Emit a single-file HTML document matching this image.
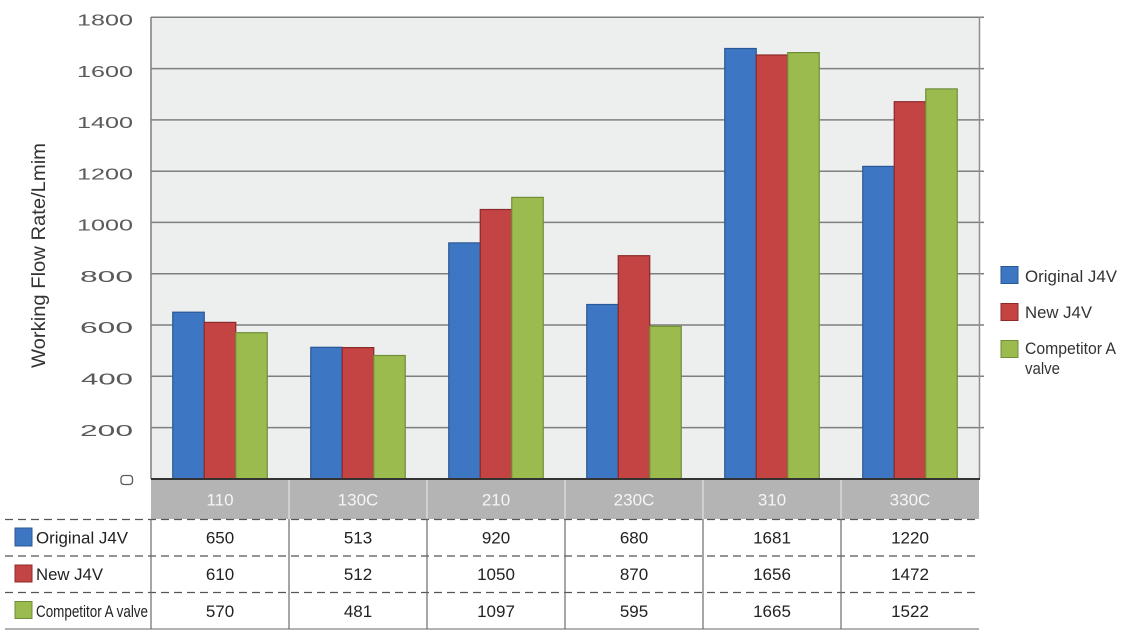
<!DOCTYPE html>
<html><head><meta charset="utf-8"><style>
html,body{margin:0;padding:0;background:#fff;}
svg{display:block;}
text{font-family:"Liberation Sans",Arial,sans-serif;}
</style></head><body>
<svg width="1127" height="641" viewBox="0 0 1127 641" xmlns="http://www.w3.org/2000/svg">
<!-- plot background -->
<rect x="151" y="17" width="828" height="462" fill="#EDEEEE"/>
<!-- gridlines -->
<g stroke="#7f7f7f" stroke-width="1.5">
<line x1="151" y1="17.3" x2="984" y2="17.3"/>
<line x1="151" y1="68.6" x2="984" y2="68.6"/>
<line x1="151" y1="119.9" x2="984" y2="119.9"/>
<line x1="151" y1="171.2" x2="984" y2="171.2"/>
<line x1="151" y1="222.4" x2="984" y2="222.4"/>
<line x1="151" y1="273.7" x2="984" y2="273.7"/>
<line x1="151" y1="325" x2="984" y2="325"/>
<line x1="151" y1="376.3" x2="984" y2="376.3"/>
<line x1="151" y1="427.6" x2="984" y2="427.6"/>
</g>
<line x1="151" y1="17" x2="151" y2="479" stroke="#7f7f7f" stroke-width="1.5"/>
<line x1="979.5" y1="17" x2="979.5" y2="479" stroke="#8f8f8f" stroke-width="1.5"/>

<!-- bars -->
<g stroke-width="1.2">
<!-- 110 -->
<rect x="172.75" y="312.2" width="31.5" height="166.8" fill="#3D76C2" stroke="#2A5896"/>
<rect x="204.25" y="322.4" width="31.5" height="156.6" fill="#C44444" stroke="#8C2A2A"/>
<rect x="235.75" y="332.7" width="31.5" height="146.3" fill="#9BBB4E" stroke="#6F8E38"/>
<!-- 130C -->
<rect x="310.75" y="347.3" width="31.5" height="131.7" fill="#3D76C2" stroke="#2A5896"/>
<rect x="342.25" y="347.6" width="31.5" height="131.4" fill="#C44444" stroke="#8C2A2A"/>
<rect x="373.75" y="355.5" width="31.5" height="123.5" fill="#9BBB4E" stroke="#6F8E38"/>
<!-- 210 -->
<rect x="448.75" y="242.9" width="31.5" height="236.1" fill="#3D76C2" stroke="#2A5896"/>
<rect x="480.25" y="209.5" width="31.5" height="269.5" fill="#C44444" stroke="#8C2A2A"/>
<rect x="511.75" y="197.4" width="31.5" height="281.6" fill="#9BBB4E" stroke="#6F8E38"/>
<!-- 230C -->
<rect x="586.75" y="304.5" width="31.5" height="174.5" fill="#3D76C2" stroke="#2A5896"/>
<rect x="618.25" y="255.7" width="31.5" height="223.3" fill="#C44444" stroke="#8C2A2A"/>
<rect x="649.75" y="326.3" width="31.5" height="152.7" fill="#9BBB4E" stroke="#6F8E38"/>
<!-- 310 -->
<rect x="724.75" y="48.5" width="31.5" height="430.5" fill="#3D76C2" stroke="#2A5896"/>
<rect x="756.25" y="55" width="31.5" height="424" fill="#C44444" stroke="#8C2A2A"/>
<rect x="787.75" y="52.6" width="31.5" height="426.4" fill="#9BBB4E" stroke="#6F8E38"/>
<!-- 330C -->
<rect x="862.75" y="166.4" width="31.5" height="312.6" fill="#3D76C2" stroke="#2A5896"/>
<rect x="894.25" y="101.7" width="31.5" height="377.3" fill="#C44444" stroke="#8C2A2A"/>
<rect x="925.75" y="88.9" width="31.5" height="390.1" fill="#9BBB4E" stroke="#6F8E38"/>
</g>

<!-- axis bottom -->
<line x1="151" y1="479" x2="980" y2="479" stroke="#333" stroke-width="2"/>

<!-- category band -->
<rect x="151" y="480" width="828" height="39" fill="#B4B4B4"/>
<g stroke="#e2e2e2" stroke-width="1.2">
<line x1="289" y1="480" x2="289" y2="519"/>
<line x1="427" y1="480" x2="427" y2="519"/>
<line x1="565" y1="480" x2="565" y2="519"/>
<line x1="703" y1="480" x2="703" y2="519"/>
<line x1="841" y1="480" x2="841" y2="519"/>
</g>
<g font-size="17" fill="#f5f5f5" text-anchor="middle">
<text x="220" y="505.5">110</text>
<text x="358" y="505.5">130C</text>
<text x="496" y="505.5">210</text>
<text x="634" y="505.5">230C</text>
<text x="772" y="505.5">310</text>
<text x="910" y="505.5">330C</text>
</g>

<!-- y labels -->
<g font-size="16" fill="#5a5a5a" text-anchor="end">
<text x="133" y="25.5" textLength="56" lengthAdjust="spacingAndGlyphs">1800</text>
<text x="133" y="76.8" textLength="56" lengthAdjust="spacingAndGlyphs">1600</text>
<text x="133" y="128.1" textLength="56" lengthAdjust="spacingAndGlyphs">1400</text>
<text x="133" y="179.4" textLength="56" lengthAdjust="spacingAndGlyphs">1200</text>
<text x="133" y="230.6" textLength="56" lengthAdjust="spacingAndGlyphs">1000</text>
<text x="133" y="281.9" textLength="53" lengthAdjust="spacingAndGlyphs">800</text>
<text x="133" y="333.2" textLength="53" lengthAdjust="spacingAndGlyphs">600</text>
<text x="133" y="384.5" textLength="52" lengthAdjust="spacingAndGlyphs">400</text>
<text x="133" y="435.8" textLength="53" lengthAdjust="spacingAndGlyphs">200</text>
</g>
<rect x="121" y="475.5" width="11.5" height="9" rx="3" ry="3" fill="none" stroke="#5a5a5a" stroke-width="1.3"/>

<!-- y title -->
<text transform="translate(45,255.5) rotate(-90)" font-size="19" fill="#333" text-anchor="middle" textLength="225" lengthAdjust="spacingAndGlyphs">Working Flow Rate/Lmim</text>

<!-- legend -->
<rect x="1001" y="266.5" width="17" height="17" fill="#3D76C2" stroke="#2A5896" stroke-width="1"/>
<rect x="1001" y="303.5" width="17" height="17" fill="#C44444" stroke="#8C2A2A" stroke-width="1"/>
<rect x="1001" y="340.5" width="17" height="17" fill="#9BBB4E" stroke="#6F8E38" stroke-width="1"/>
<g font-size="16.5" fill="#333">
<text x="1025" y="282" textLength="92" lengthAdjust="spacingAndGlyphs">Original J4V</text>
<text x="1025" y="318" textLength="67" lengthAdjust="spacingAndGlyphs">New J4V</text>
<text x="1025" y="354" textLength="91" lengthAdjust="spacingAndGlyphs">Competitor A</text>
<text x="1025" y="374" textLength="35" lengthAdjust="spacingAndGlyphs">valve</text>
</g>

<!-- table -->
<g stroke="#555" stroke-width="1.2" stroke-dasharray="8,5">
<line x1="5" y1="519.5" x2="979" y2="519.5"/>
<line x1="5" y1="556" x2="979" y2="556"/>
<line x1="5" y1="592.5" x2="979" y2="592.5"/>
</g>
<line x1="5" y1="629" x2="979" y2="629" stroke="#9a9a9a" stroke-width="1.5"/>
<g stroke="#6a6a6a" stroke-width="1.2">
<line x1="151" y1="519" x2="151" y2="629"/>
<line x1="289" y1="519" x2="289" y2="629"/>
<line x1="427" y1="519" x2="427" y2="629"/>
<line x1="565" y1="519" x2="565" y2="629"/>
<line x1="703" y1="519" x2="703" y2="629"/>
<line x1="841" y1="519" x2="841" y2="629"/>
</g>
<rect x="15" y="528" width="17" height="18" fill="#3D76C2" stroke="#2A5896" stroke-width="1"/>
<rect x="15" y="565" width="17" height="17" fill="#C44444" stroke="#8C2A2A" stroke-width="1"/>
<rect x="15" y="601.5" width="17" height="17" fill="#9BBB4E" stroke="#6F8E38" stroke-width="1"/>
<g font-size="17" fill="#222">
<text x="36" y="543.5" textLength="92" lengthAdjust="spacingAndGlyphs">Original J4V</text>
<text x="36" y="580" textLength="67" lengthAdjust="spacingAndGlyphs">New J4V</text>
<text x="36" y="617" font-size="16.5" textLength="112" lengthAdjust="spacingAndGlyphs">Competitor A valve</text>
</g>
<g font-size="17" fill="#222" text-anchor="middle">
<text x="220" y="543.5">650</text>
<text x="358" y="543.5">513</text>
<text x="496" y="543.5">920</text>
<text x="634" y="543.5">680</text>
<text x="772" y="543.5">1681</text>
<text x="910" y="543.5">1220</text>
<text x="220" y="580">610</text>
<text x="358" y="580">512</text>
<text x="496" y="580">1050</text>
<text x="634" y="580">870</text>
<text x="772" y="580">1656</text>
<text x="910" y="580">1472</text>
<text x="220" y="617">570</text>
<text x="358" y="617">481</text>
<text x="496" y="617">1097</text>
<text x="634" y="617">595</text>
<text x="772" y="617">1665</text>
<text x="910" y="617">1522</text>
</g>
</svg>
</body></html>
